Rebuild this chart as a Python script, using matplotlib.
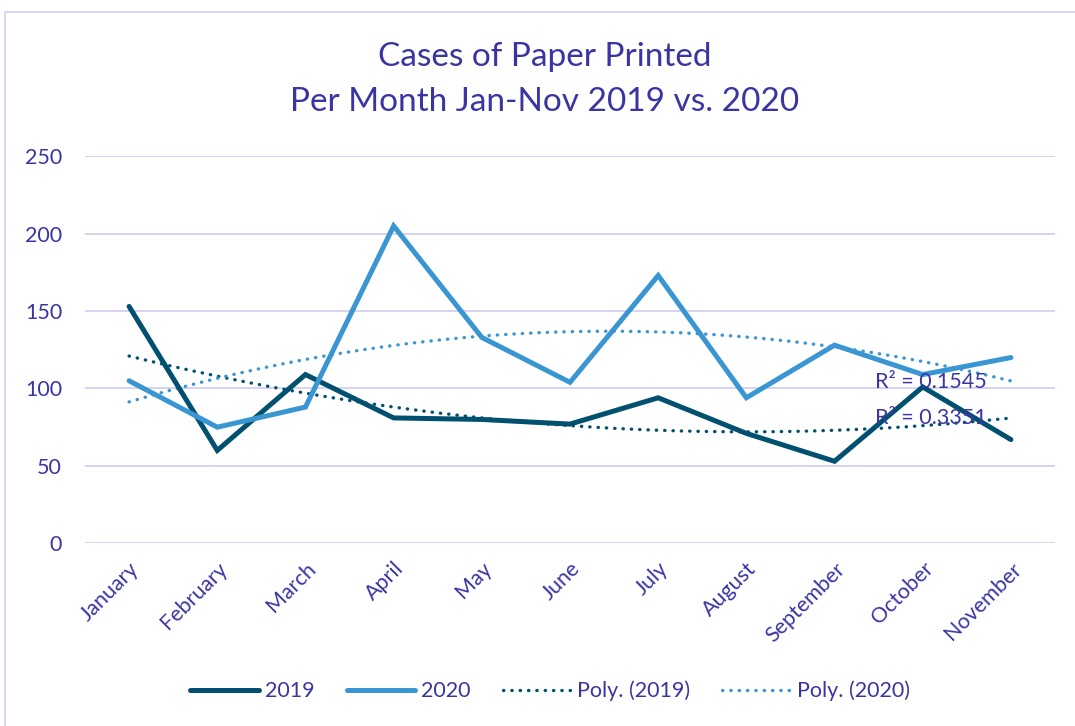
import numpy as np
import matplotlib
matplotlib.use('Agg')
import matplotlib.pyplot as plt
from matplotlib.patches import Rectangle

# Data
months = ['January', 'February', 'March', 'April', 'May', 'June',
          'July', 'August', 'September', 'October', 'November']
cases_2019 = [153, 60, 109, 81, 80, 77, 94, 71, 53, 101, 67]
cases_2020 = [105, 75, 88, 205, 133, 104, 173, 94, 128, 109, 120]
r2_labels = ['R² = 0.3351', 'R² = 0.1545']
y_ticks = [0, 50, 100, 150, 200, 250]

TEXT_COLOR = '#3B35A3'
GRID_COLOR = '#D3CFF0'
C2019 = '#02506F'
C2020 = '#3A96D2'


def main():
    plt.rcParams['font.family'] = ['Lato', 'DejaVu Sans']
    fig = plt.figure(figsize=(10.75, 7.26), dpi=100)

    # chart area border (cut off at right and bottom like the reference)
    fig.patches.append(Rectangle((5 / 1075, -0.1), 1.2, 1.1 - 12 / 726,
                                 transform=fig.transFigure, fill=False,
                                 edgecolor=GRID_COLOR, lw=1.2))

    ax = fig.add_axes([85 / 1075, 1 - 543.3 / 726, 970 / 1075, 387 / 726])
    x = np.arange(len(months))

    ax.plot(x, cases_2019, color=C2019, lw=3.6, solid_capstyle='round',
            solid_joinstyle='miter', label='2019', zorder=3)
    ax.plot(x, cases_2020, color=C2020, lw=3.6, solid_capstyle='round',
            solid_joinstyle='miter', label='2020', zorder=3)

    # second order polynomial trendlines
    xs = np.linspace(0, len(months) - 1, 200)
    for vals, col, name in [(cases_2019, C2019, 'Poly. (2019)'),
                            (cases_2020, C2020, 'Poly. (2020)')]:
        coef = np.polyfit(x, vals, 2)
        ax.plot(xs, np.polyval(coef, xs), color=col, lw=2.4,
                linestyle=(0, (0.1, 2.4)), dash_capstyle='round',
                label=name, zorder=2)

    ax.text(8.46, 104, r2_labels[1], color=TEXT_COLOR, fontsize=15.5,
            va='center', ha='left', zorder=4)
    ax.text(8.46, 81, r2_labels[0], color=TEXT_COLOR, fontsize=15.5,
            va='center', ha='left', zorder=4)

    ax.set_xlim(-0.5, len(months) - 0.5)
    ax.set_ylim(0, 250)
    ax.set_yticks(y_ticks)
    ax.set_xticks(x)
    ax.set_xticklabels(months, rotation=45, ha='right',
                       rotation_mode='anchor')
    ax.tick_params(axis='both', length=0, labelsize=15.5,
                   labelcolor=TEXT_COLOR)
    ax.tick_params(axis='y', pad=16.5)
    ax.tick_params(axis='x', pad=11)
    ax.grid(axis='y', color=GRID_COLOR, lw=1.3)
    ax.set_axisbelow(True)
    for s in ax.spines.values():
        s.set_visible(False)

    fig.text(0.507, 1 - 57 / 726, 'Cases of Paper Printed', ha='center',
             va='center', fontsize=24, color=TEXT_COLOR)
    fig.text(0.507, 1 - 102 / 726, 'Per Month Jan-Nov 2019 vs. 2020',
             ha='center', va='center', fontsize=24, color=TEXT_COLOR)

    leg = fig.legend(loc='center', bbox_to_anchor=(550 / 1075, 1 - 691 / 726),
                     ncol=4, frameon=False, fontsize=15.5, handlelength=3.2,
                     handletextpad=0.25, columnspacing=1.5)
    for t in leg.get_texts():
        t.set_color(TEXT_COLOR)

    fig.savefig('out.png', dpi=100)


if __name__ == '__main__':
    main()
